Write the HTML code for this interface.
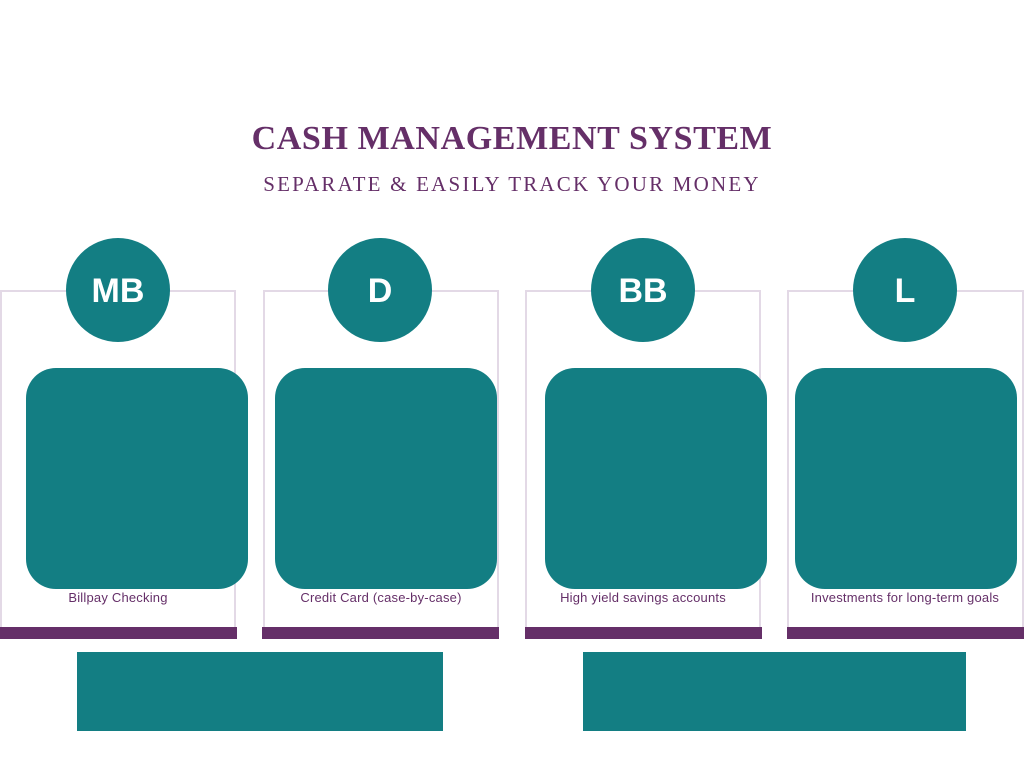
<!DOCTYPE html>
<html><head><style>
body{margin:0;width:1024px;height:768px;background:#fff;position:relative;overflow:hidden;font-family:"Liberation Sans",sans-serif}
.a{position:absolute}
.col{position:absolute;top:290px;width:236px;height:337px;border:2px solid #e3d9e6;border-bottom:none;box-sizing:border-box}
.bar{position:absolute;top:627px;height:12px;width:237px;background:#652f68}
.c{position:absolute;top:238px;width:104px;height:104px;border-radius:50%;background:#137e83;color:#fff;font-weight:bold;font-size:34px;line-height:106px;text-align:center}
.sq{position:absolute;top:368px;width:222px;height:221px;border-radius:30px;background:#137e83}
.lb{position:absolute;top:590px;width:260px;text-align:center;color:#652f68;font-size:13px;letter-spacing:0.2px}
.r{position:absolute;top:652px;height:79px;background:#137e83}
</style></head><body>
<div class="a" style="top:120px;left:0;width:1024px;text-align:center;font-family:'Liberation Serif',serif;font-weight:bold;font-size:34px;color:#652f68;letter-spacing:0.6px">CASH MANAGEMENT SYSTEM</div>
<div class="a" style="top:172px;left:0;width:1024px;text-align:center;font-family:'Liberation Serif',serif;font-size:21px;color:#652f68;letter-spacing:2.2px">SEPARATE &amp; EASILY TRACK YOUR MONEY</div>

<div class="col" style="left:0"></div><div class="bar" style="left:0"></div>
<div class="col" style="left:263px"></div><div class="bar" style="left:262px"></div>
<div class="col" style="left:525px"></div><div class="bar" style="left:525px"></div>
<div class="col" style="left:787px;width:237px"></div><div class="bar" style="left:787px"></div>

<div class="c" style="left:66px">MB</div>
<div class="c" style="left:328px">D</div>
<div class="c" style="left:591px">BB</div>
<div class="c" style="left:853px">L</div>

<div class="sq" style="left:26px"></div>
<div class="sq" style="left:275px"></div>
<div class="sq" style="left:545px"></div>
<div class="sq" style="left:795px"></div>

<div class="lb" style="left:-12px">Billpay Checking</div>
<div class="lb" style="left:251px">Credit Card (case-by-case)</div>
<div class="lb" style="left:513px">High yield savings accounts</div>
<div class="lb" style="left:775px">Investments for long-term goals</div>

<div class="r" style="left:77px;width:366px"></div>
<div class="r" style="left:583px;width:383px"></div>
</body></html>
